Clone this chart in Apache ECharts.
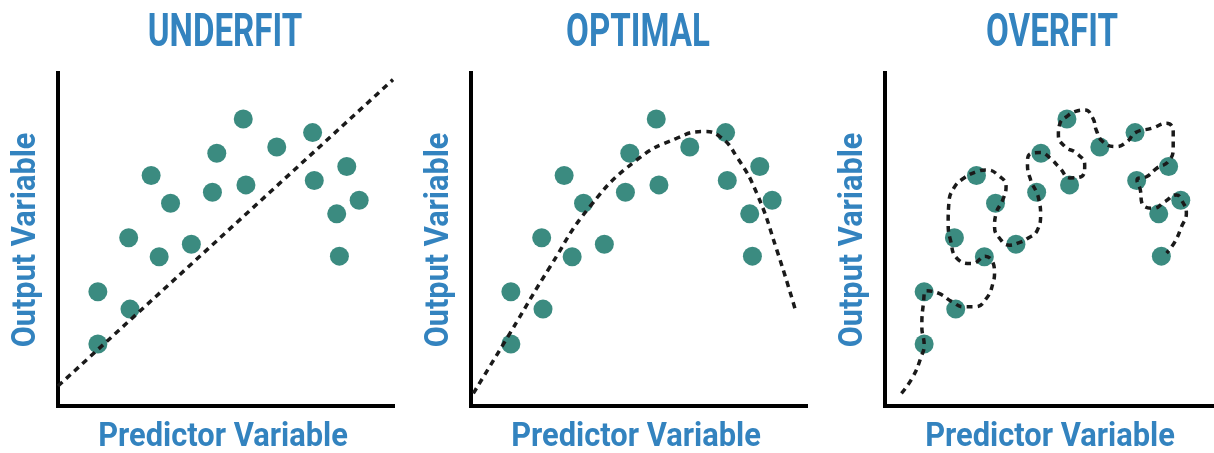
<!DOCTYPE html>
<html>
<head>
<meta charset="utf-8">
<script src="https://cdn.jsdelivr.net/npm/echarts@6/dist/echarts.min.js"></script>
<style>html,body{margin:0;padding:0;background:#fff}#c{width:1214px;height:453px}</style>
</head>
<body>
<div id="c"></div>
<script>
// ---- data ----
const panelTitles = ['UNDERFIT', 'OPTIMAL', 'OVERFIT'];
const xAxisName = 'Predictor Variable';
const yAxisName = 'Output Variable';
const pointsX = [1.19, 1.19, 2.15, 2.11, 2.78, 3.02, 3.36, 3.98, 4.61, 4.74, 5.53, 5.61, 6.53, 7.60, 7.65, 8.62, 8.32, 8.99, 8.40];
const pointsY = [1.86, 3.43, 2.91, 5.05, 6.92, 4.48, 6.09, 4.86, 6.42, 7.59, 8.62, 6.64, 7.78, 8.21, 6.77, 7.19, 5.77, 6.18, 4.50];
const underfitLine = [[0, 0.6], [10, 9.8]];
const optimalCurve = [[0.07, 0.38], [1.16, 2.18], [2.36, 4.18], [3.55, 5.99], [4.95, 7.39], [6.14, 8.04], [6.93, 8.24], [7.43, 8.09], [7.93, 7.49], [8.53, 6.39], [9.13, 4.68], [9.67, 2.93]];
const overfitCurve = [[0.50,0.38],[0.85,0.88],[1.10,1.48],[1.19,1.83],[1.12,2.38],[1.17,3.10],[1.25,3.46],[1.64,3.38],[2.04,3.13],[2.39,2.98],[2.74,2.98],[3.08,3.23],[3.28,3.68],[3.33,4.03],[3.04,4.50],[2.64,4.28],[2.19,4.43],[1.99,4.98],[1.92,5.48],[1.94,6.09],[2.09,6.54],[2.39,6.84],[2.79,7.04],[3.08,7.09],[3.43,6.94],[3.68,6.59],[3.58,6.19],[3.38,5.79],[3.33,5.38],[3.48,5.04],[3.78,4.83],[4.03,4.89],[4.33,5.03],[4.63,5.28],[4.73,5.78],[4.68,6.18],[4.61,6.41],[4.43,6.78],[4.33,7.28],[4.43,7.58],[4.73,7.61],[5.02,7.44],[5.32,7.14],[5.62,6.85],[5.97,6.89],[6.07,7.24],[5.82,7.59],[5.47,7.79],[5.27,8.14],[5.32,8.49],[5.52,8.69],[5.77,8.84],[6.07,8.89],[6.32,8.64],[6.42,8.29],[6.62,7.94],[7.01,7.79],[7.36,7.94],[7.61,8.21],[8.11,8.34],[8.56,8.49],[8.76,8.24],[8.76,7.74],[8.61,7.34],[8.26,7.14],[7.96,6.89],[7.66,6.79],[7.76,6.49],[7.81,6.09],[8.16,5.94],[8.51,6.14],[8.86,6.34],[9.01,6.19],[9.16,5.79],[9.01,5.38],[8.81,4.93],[8.56,4.59]];
const fitCurves = [underfitLine, optimalCurve, overfitCurve];
const curveSmooth = [false, 0.5, 0.5];

// ---- layout / style ----
const gridLefts = [58, 471, 885];
const gridTop = 73, gridW = 335, gridH = 333;
const blue = '#3383bf';
const teal = '#3b8b80';

const chart = echarts.init(document.getElementById('c'), null, {renderer: 'canvas'});
const grids = [], xAxes = [], yAxes = [], series = [], graphics = [];
const axisLine = {show: true, lineStyle: {color: '#000', width: 4, cap: 'square'}};
for (let i = 0; i < 3; i++) {
  grids.push({left: gridLefts[i], top: gridTop, width: gridW, height: gridH, containLabel: false});
  xAxes.push({type: 'value', gridIndex: i, min: 0, max: 10, axisLine: axisLine, axisTick: {show: false}, axisLabel: {show: false}, splitLine: {show: false}});
  yAxes.push({type: 'value', gridIndex: i, min: 0, max: 10, axisLine: axisLine, axisTick: {show: false}, axisLabel: {show: false}, splitLine: {show: false}});
  series.push({
    type: 'scatter', xAxisIndex: i, yAxisIndex: i, symbolSize: 19, z: 2,
    itemStyle: {color: teal, opacity: 1},
    data: pointsX.map((x, k) => [x, pointsY[k]]), silent: true
  });
  series.push({
    type: 'line', xAxisIndex: i, yAxisIndex: i, z: 3, showSymbol: false, symbol: 'none',
    smooth: curveSmooth[i],
    lineStyle: {color: '#1a1a1a', width: 3.5, type: [6, 5]},
    data: fitCurves[i], silent: true
  });
  const cx = gridLefts[i] + 167;
  graphics.push({
    type: 'text', x: cx, y: 34, scaleX: 0.72, z: 10,
    style: {text: panelTitles[i], fill: blue, font: 'bold 46px Roboto', align: 'center', verticalAlign: 'middle', textAlign: 'center', textVerticalAlign: 'middle'}
  });
  graphics.push({
    type: 'text', x: gridLefts[i] + 165, y: 438, scaleX: 0.935, z: 10,
    style: {text: xAxisName, fill: blue, font: 'bold 33px Roboto', align: 'center', verticalAlign: 'middle', textAlign: 'center', textVerticalAlign: 'middle'}
  });
  graphics.push({
    type: 'text', x: gridLefts[i] - 31, y: 240, rotation: Math.PI / 2, scaleX: 0.93, z: 10,
    style: {text: yAxisName, fill: blue, font: 'bold 33px Roboto', align: 'center', verticalAlign: 'middle', textAlign: 'center', textVerticalAlign: 'middle'}
  });
}
chart.setOption({
  animation: false,
  backgroundColor: '#fff',
  grid: grids, xAxis: xAxes, yAxis: yAxes, series: series,
  graphic: {elements: graphics}
});
</script>
</body>
</html>
